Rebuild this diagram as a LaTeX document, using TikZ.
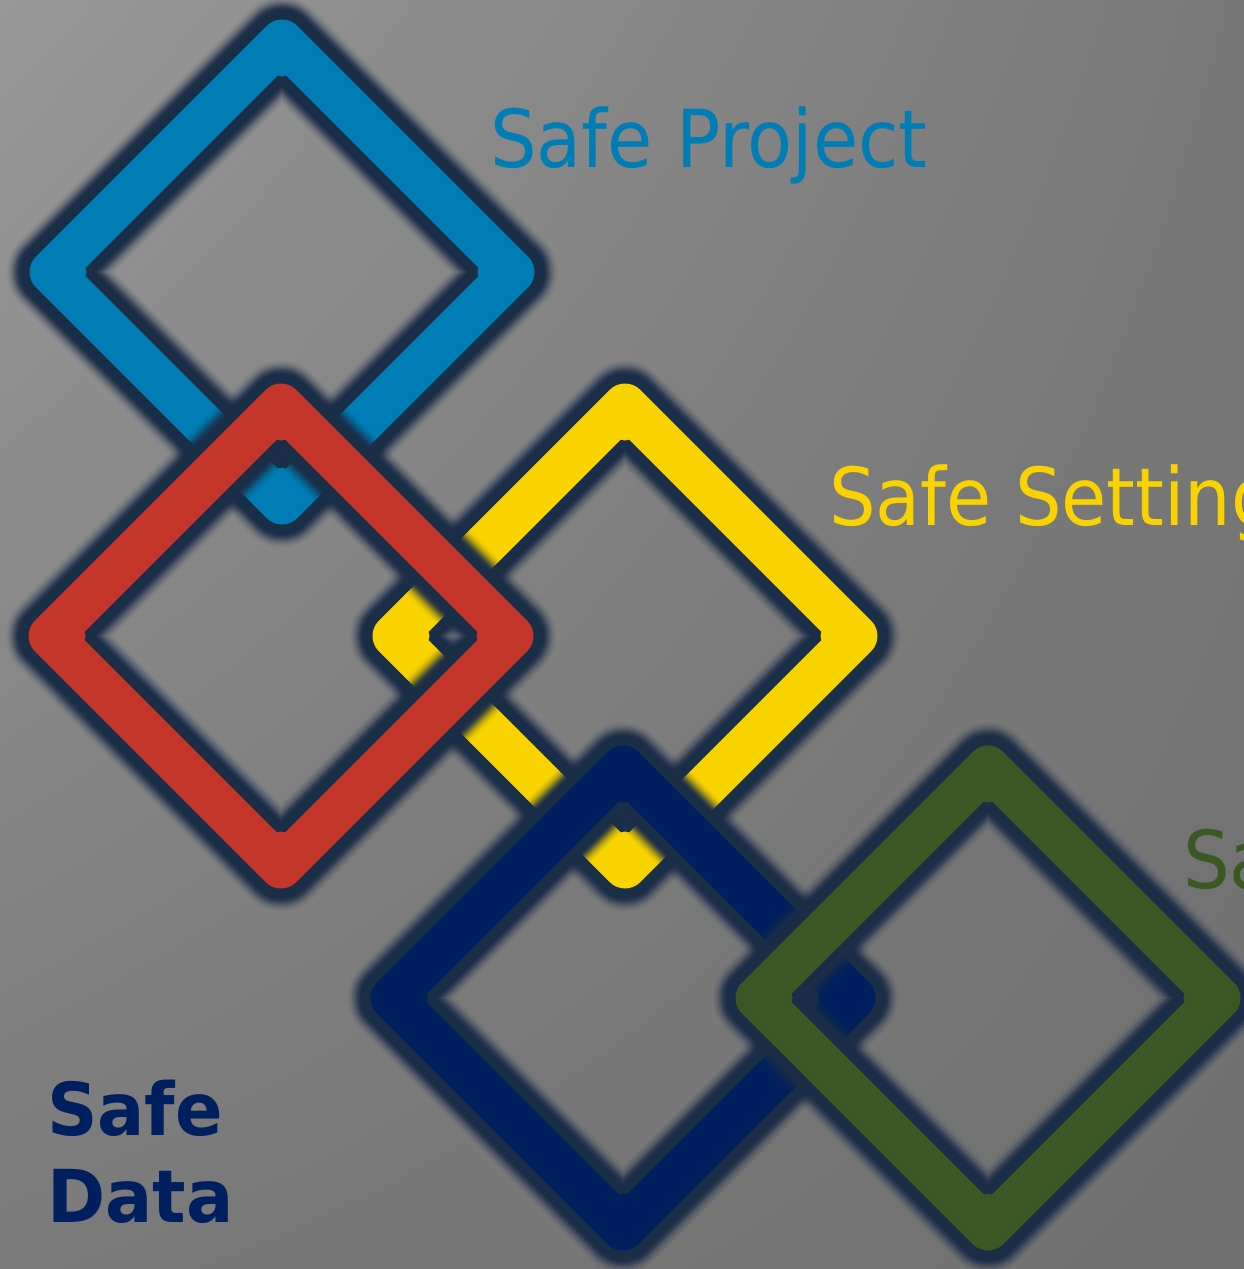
\documentclass[tikz,border=0pt]{standalone}
\usepackage{fontspec}
\usetikzlibrary{shadings}
\newfontfamily\tah[FakeStretch=0.918]{DejaVu Sans}
\newfontfamily\tahb[FakeStretch=0.96]{DejaVu Sans Bold}
\definecolor{bgA}{HTML}{989898}
\definecolor{bgB}{HTML}{787878}
\definecolor{bgC}{HTML}{7A7A7A}
\definecolor{bgD}{HTML}{707070}
\definecolor{glowc}{HTML}{1B2E48}
\definecolor{cBlue}{HTML}{007DB5}
\definecolor{cRed}{HTML}{C4362A}
\definecolor{cYellow}{HTML}{F9D300}
\definecolor{cNavy}{HTML}{001F5E}
\definecolor{cGreen}{HTML}{3B5723}
\tikzset{
  ring/.style={line join=round, line width=43pt},
  glowline/.style={line join=round, draw=glowc},
  lbl/.style={anchor=base west, inner sep=0pt, font=\tah\fontsize{80}{80}\selectfont},
}
\newcommand\safediamond[2]{%
  \begin{scope}[shift={#1}]
    \foreach \ww/\op in {89/0.06,85/0.10,81/0.16,77/0.25,73/0.38,69/0.55,65/0.8,61/0.95}
      \draw[glowline, line width=\ww pt, opacity=\op] (0,-231) -- (231,0) -- (0,231) -- (-231,0) -- cycle;
    \draw[ring, draw=#2] (0,-231) -- (231,0) -- (0,231) -- (-231,0) -- cycle;
    \fill[#2] (0,-204) circle (8.5) (204,0) circle (8.5) (0,204) circle (8.5) (-204,0) circle (8.5);
  \end{scope}}
\begin{document}
\begin{tikzpicture}[x=1pt,y=-1pt]
\path[clip] (0,0) rectangle (1244,1269);
\shade[upper left=bgA, upper right=bgB, lower left=bgC, lower right=bgD] (0,0) rectangle (1244,1269);
\safediamond{(282,272)}{cBlue}
\safediamond{(625,636)}{cYellow}
\safediamond{(281,636)}{cRed}
\safediamond{(623,998)}{cNavy}
\safediamond{(988,998)}{cGreen}
\node[lbl, text=cBlue] (tproj) at (490,167) {Safe Project};
\node[lbl, text=cYellow] (tset) at (829,525) {Safe Settings};
\node[lbl, text=cGreen] (tout) at (1183,888) {Safe Outputs};
\node[anchor=base west, inner sep=0pt, align=left, text=cNavy, font=\tahb\fontsize{73}{87}\selectfont] (tdata) at (47,1222) {Safe\\Data};
\end{tikzpicture}
\end{document}
